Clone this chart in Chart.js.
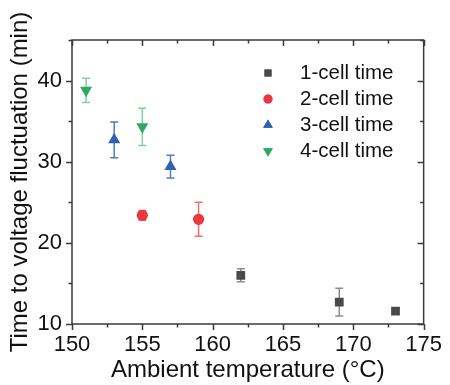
<!DOCTYPE html>
<html>
<head>
<meta charset="utf-8">
<script src="https://cdn.jsdelivr.net/npm/chart.js"></script>
<style>
  html, body { margin: 0; padding: 0; background: #fff; }
  #chart { display: block; }
</style>
</head>
<body>
<canvas id="chart" width="450" height="385"></canvas>
<script>
// data
const labels = ['1-cell time', '2-cell time', '3-cell time', '4-cell time'];

const temp1 = [162, 169, 173];
const time1 = [16.0, 12.7, 11.6];
const err1 = [0.8, 1.7, 0.3];

const temp2 = [155, 159];
const time2 = [23.4, 22.9];
const err2 = [0.6, 2.1];

const temp3 = [153, 157];
const time3 = [32.7, 29.4];
const err3 = [2.2, 1.4];

const temp4 = [151, 155];
const time4 = [38.8, 34.3];
const err4 = [1.5, 2.3];

const xTicks = [150, 155, 160, 165, 170, 175];
const yTicks = [10, 20, 30, 40];

const colors = ['#4a4a4a', '#e8393e', '#2f63ae', '#2fa866'];
const errColors = ['#8c8c8c', '#ee6f72', '#4f7cc0', '#7fcf9f'];
const styles = ['rect', 'circle', 'triangle', 'triangle'];
const rotations = [0, 0, 0, 180];
const radii = [6.2, 5.6, 7, 7];

function points(xs, ys, es) {
  return xs.map((x, i) => ({ x: x, y: ys[i], e: es[i] }));
}
const series = [
  points(temp1, time1, err1),
  points(temp2, time2, err2),
  points(temp3, time3, err3),
  points(temp4, time4, err4)
];

const frameColor = '#3a3a3a';

// error bars, drawn under the markers
const errorBars = {
  id: 'errorBars',
  beforeDatasetsDraw(chart) {
    const ctx = chart.ctx;
    const xs = chart.scales.x, ys = chart.scales.y;
    ctx.save();
    chart.data.datasets.forEach((ds, di) => {
      ctx.strokeStyle = errColors[di];
      ctx.lineWidth = 1.5;
      ds.data.forEach(p => {
        if (!p.e) return;
        const px = xs.getPixelForValue(p.x);
        const top = ys.getPixelForValue(p.y + p.e);
        const bot = ys.getPixelForValue(p.y - p.e);
        ctx.beginPath();
        ctx.moveTo(px, top); ctx.lineTo(px, bot);
        ctx.moveTo(px - 4, top); ctx.lineTo(px + 4, top);
        ctx.moveTo(px - 4, bot); ctx.lineTo(px + 4, bot);
        ctx.stroke();
      });
    });
    ctx.restore();
  }
};

// frame, major/minor ticks on all four sides
const frame = {
  id: 'frame',
  afterDraw(chart) {
    const ctx = chart.ctx;
    const a = chart.chartArea;
    const xs = chart.scales.x, ys = chart.scales.y;
    ctx.save();
    ctx.strokeStyle = frameColor;
    ctx.lineWidth = 1.5;
    ctx.strokeRect(a.left, a.top, a.right - a.left, a.bottom - a.top);
    ctx.beginPath();
    for (let v = 150; v <= 175; v += 2.5) {
      const px = Math.round(xs.getPixelForValue(v)) + 0.5;
      const len = (v % 5 === 0) ? 6 : 3.5;
      ctx.moveTo(px, a.bottom); ctx.lineTo(px, a.bottom + len);
      ctx.moveTo(px, a.top); ctx.lineTo(px, a.top + len);
    }
    for (let v = 10; v <= 45; v += 5) {
      const py = Math.round(ys.getPixelForValue(v)) + 0.5;
      const len = (v % 10 === 0) ? 6 : 3.5;
      ctx.moveTo(a.left, py); ctx.lineTo(a.left - len, py);
      ctx.moveTo(a.right, py); ctx.lineTo(a.right - len, py);
    }
    ctx.stroke();
    ctx.restore();
  }
};

// legend inside plot
const legendBox = {
  id: 'legendBox',
  afterDraw(chart) {
    const ctx = chart.ctx;
    ctx.save();
    ctx.font = '20.5px "Liberation Sans", Arial, sans-serif';
    ctx.textBaseline = 'middle';
    chart.data.datasets.forEach((ds, i) => {
      const y = 73 + i * 26;
      ctx.fillStyle = colors[i];
      Chart.helpers.drawPoint(ctx, {
        pointStyle: styles[i], rotation: rotations[i], radius: radii[i] * 0.8, borderWidth: 0
      }, 268, y);
      ctx.fill();
      ctx.fillStyle = '#111';
      ctx.fillText(ds.label, 300, y);
    });
    ctx.restore();
  }
};

const font = { family: '"Liberation Sans", Arial, sans-serif' };

new Chart(document.getElementById('chart'), {
  type: 'scatter',
  data: {
    datasets: series.map((d, i) => ({
      label: labels[i],
      data: d,
      pointStyle: styles[i],
      rotation: rotations[i],
      pointRadius: radii[i],
      pointHoverRadius: radii[i],
      backgroundColor: colors[i],
      borderColor: colors[i],
      borderWidth: 0
    }))
  },
  options: {
    responsive: false,
    animation: false,
    layout: { padding: { top: 40, right: 24, left: 0, bottom: 0 } },
    plugins: { legend: { display: false }, tooltip: { enabled: false } },
    scales: {
      x: {
        type: 'linear', min: 150, max: 175,
        afterBuildTicks: s => { s.ticks = xTicks.map(v => ({ value: v })); },
        afterFit: s => { s.height = 61; },
        grid: { display: false, drawTicks: false },
        border: { display: false },
        ticks: { padding: 8, color: '#111', font: { ...font, size: 22 } },
        title: {
          display: true, text: 'Ambient temperature (°C)', color: '#111',
          font: { ...font, size: 24 }, padding: { top: 0, bottom: 0 }
        }
      },
      y: {
        type: 'linear', min: 10, max: 45,
        afterBuildTicks: s => { s.ticks = yTicks.map(v => ({ value: v })); },
        afterFit: s => { s.width = 72; },
        grid: { display: false, drawTicks: false },
        border: { display: false },
        ticks: { padding: 10, color: '#111', font: { ...font, size: 22 } },
        title: {
          display: true, text: 'Time to voltage fluctuation (min)', color: '#111',
          font: { ...font, size: 24 }, padding: { top: 6, bottom: 0 }
        }
      }
    }
  },
  plugins: [errorBars, frame, legendBox]
});
</script>
</body>
</html>
